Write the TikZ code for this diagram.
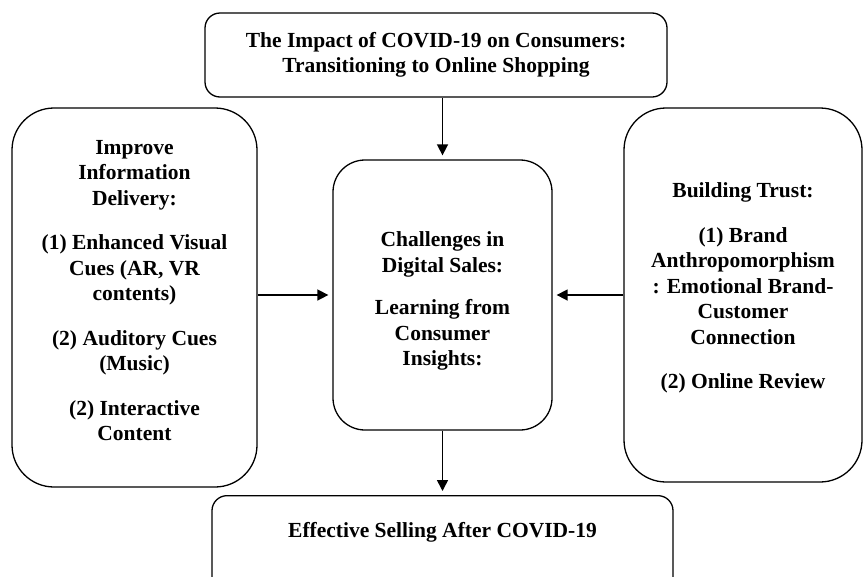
\documentclass[tikz,border=0pt]{standalone}
\usepackage{fontspec}
\setmainfont{Liberation Serif}
\usetikzlibrary{arrows.meta}
\begin{document}
\begin{tikzpicture}[x=1pt,y=-1pt,
  boxbase/.style={draw=black, line width=1.3pt, align=center, font=\fontsize{21.5}{25.5}\selectfont\bfseries, inner sep=0pt},
  txt/.style={align=center, font=\fontsize{21.5}{25.5}\selectfont\bfseries, inner sep=0pt},
  conn/.style={line width=1.6pt, -{Triangle[length=11pt,width=11pt]}, shorten >=4pt}]
\useasboundingbox (0,0) rectangle (866,576);
\node[boxbase, rounded corners=15pt, minimum width=462pt, minimum height=84pt] (top) at (436,55)
  {The Impact of COVID-19 on Consumers:\\Transitioning to Online Shopping};
\node[boxbase, rounded corners=32pt, minimum width=219pt, minimum height=270pt] (mid) at (442.5,295) {};
\node[txt] (midtext) at (442.5,301)
  {Challenges in\\Digital Sales:\\[17pt]Learning from\\Consumer\\Insights:};
\node[boxbase, rounded corners=42pt, minimum width=245pt, minimum height=379pt] (left) at (134.5,297.5) {};
\node[txt] (lefttext) at (134.5,290.5)
  {Improve\\Information\\Delivery:\\[19pt](1) Enhanced Visual\\Cues (AR, VR\\contents)\\[19pt](2) Auditory Cues\\(Music)\\[19pt](2) Interactive\\Content};
\node[boxbase, rounded corners=42pt, minimum width=238pt, minimum height=374pt] (right) at (743,295) {};
\node[txt] (righttext) at (743,288)
  {Building Trust:\\[19pt](1) Brand\\Anthropomorphism\\: Emotional Brand-\\Customer\\Connection\\[19pt](2) Online Review};
\node[boxbase, rounded corners=15pt, minimum width=461pt, anchor=north, text height=42pt, text depth=60pt] (bot) at (442.5,495)
  {Effective Selling After COVID-19};
\draw[conn] (top.south -| mid.north) -- (mid.north);
\draw[conn] (mid.south) -- (bot.north -| mid.south);
\draw[conn] (left.east |- mid.west) -- (mid.west);
\draw[conn] (right.west |- mid.east) -- (mid.east);
\end{tikzpicture}
\end{document}
